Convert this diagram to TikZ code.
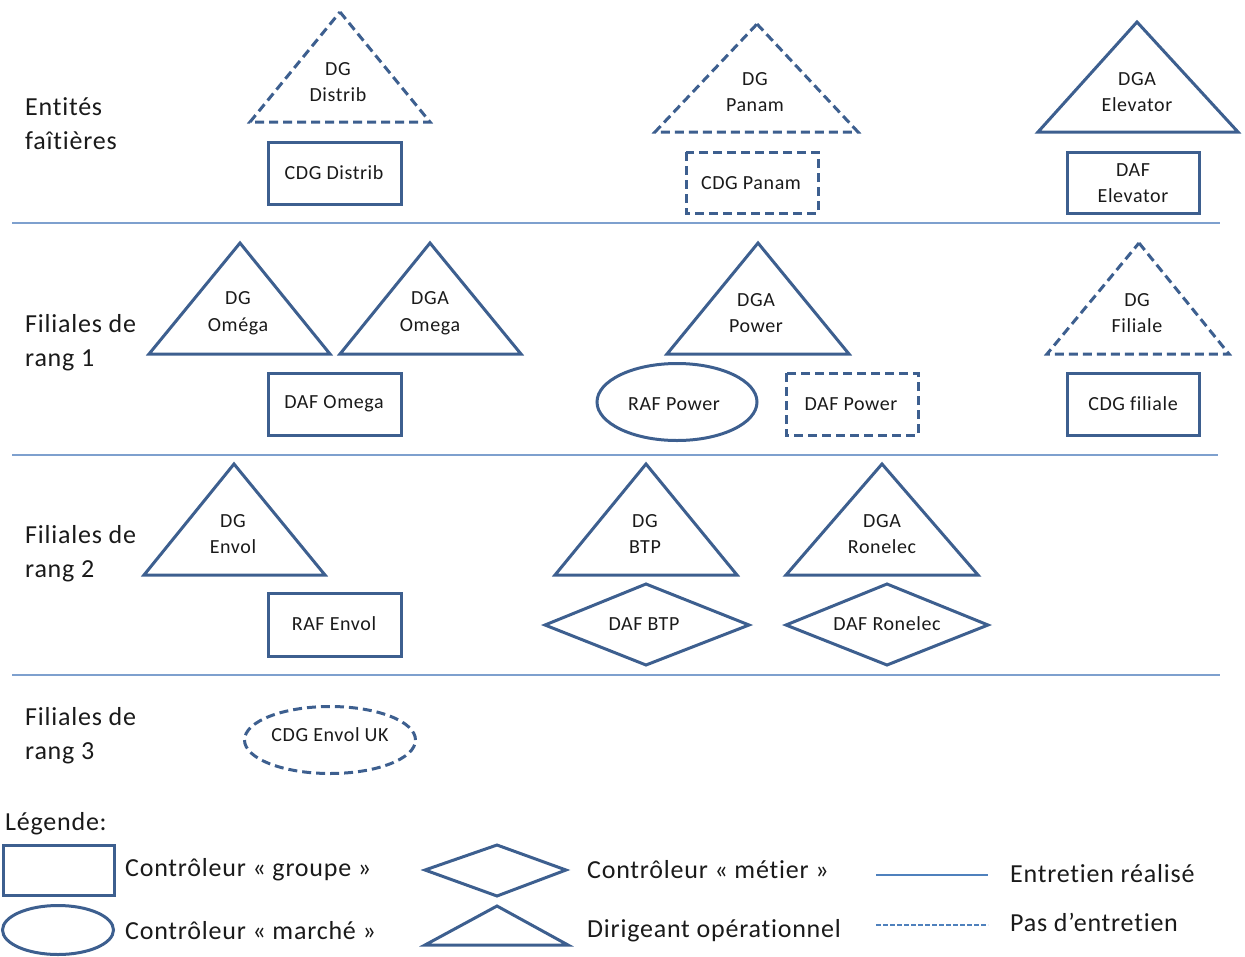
\documentclass[tikz,border=0pt]{standalone}
\usepackage{fontspec}
\setmainfont{Carlito}[LetterSpace=3,Ligatures=NoCommon]
\usetikzlibrary{shapes.geometric}
\definecolor{shpc}{HTML}{3D5F8F}
\definecolor{sepc}{HTML}{7EA0CE}
\definecolor{legc}{HTML}{4F81BD}
\definecolor{txt}{HTML}{1A1A1A}
\tikzset{
  outl/.style={draw=shpc, line width=3pt, line join=miter},
  dsh/.style={dash pattern=on 9pt off 5pt},
  lbl/.style={text=txt, font=\fontsize{20}{26.5}\selectfont, align=center, inner sep=0pt},
  rowlbl/.style={text=txt, font=\fontsize{26}{34}\selectfont, align=left, anchor=west, inner sep=0pt},
  legtxt/.style={text=txt, font=\fontsize{26}{30}\selectfont, anchor=west, inner sep=0pt},
  sepline/.style={draw=sepc, line width=2.5pt},
}
\begin{document}
\begin{tikzpicture}[x=1pt,y=-1pt]
\useasboundingbox (0,0) rectangle (1245,956);
% separators
\coordinate (s1a) at (12,223); \coordinate (s1b) at (1220,223);
\coordinate (s2a) at (12,455); \coordinate (s2b) at (1218,455);
\coordinate (s3a) at (12,675); \coordinate (s3b) at (1220,675);
\draw[sepline] (s1a) -- (s1b);
\draw[sepline] (s2a) -- (s2b);
\draw[sepline] (s3a) -- (s3b);
% row labels
\node[rowlbl] (l1) at (25,124) {Entités\\faîtières};
\node[rowlbl] (l2) at (25,343) {Filiales de\\rang 1};
\node[rowlbl] (l3) at (25,554) {Filiales de\\rang 2};
\node[rowlbl] (l4) at (25,736) {Filiales de\\rang 3};
% ---- Row 1
\draw[outl,dsh] (340,12) -- (430,122) -- (250,122) -- cycle;
\node[lbl] (dgdistrib) at (338,82) {DG\\Distrib};
\draw[outl] (268,142) rectangle (401,204);
\node[lbl] (cdgdistrib) at (334,173) {CDG Distrib};
\draw[outl,dsh] (757,24) -- (858,132) -- (655,132) -- cycle;
\node[lbl] (dgpanam) at (755,92) {DG\\Panam};
\draw[outl,dsh] (686,152) rectangle (818,213);
\node[lbl] (cdgpanam) at (751,183) {CDG Panam};
\draw[outl] (1137,22) -- (1238,132) -- (1038,132) -- cycle;
\node[lbl] (dgaelev) at (1137,92) {DGA\\Elevator};
\draw[outl] (1067,152) rectangle (1199,213);
\node[lbl] (dafelev) at (1133,183) {DAF\\Elevator};
% ---- Row 2
\draw[outl] (240,243) -- (330,354) -- (149,354) -- cycle;
\node[lbl] (dgomega) at (238,313) {DG\\Oméga};
\draw[outl] (430,243) -- (521,354) -- (340,354) -- cycle;
\node[lbl] (dgaomega) at (430,313) {DGA\\Omega};
\draw[outl] (268,373) rectangle (401,435);
\node[lbl] (dafomega) at (334,404) {DAF Omega};
\draw[outl] (758,243) -- (849,354) -- (667,354) -- cycle;
\node[lbl] (dgapower) at (756,313) {DGA\\Power};
\node[outl, ellipse, minimum width=160pt, minimum height=77pt] (rafpower) at (677,402) {};
\node[lbl] at (674,404) {RAF Power};
\draw[outl,dsh] (786,373) rectangle (918,435);
\node[lbl] (dafpower) at (851,404) {DAF Power};
\draw[outl,dsh] (1139,243) -- (1229,354) -- (1047,354) -- cycle;
\node[lbl] (dgfiliale) at (1137,313) {DG\\Filiale};
\draw[outl] (1067,373) rectangle (1199,435);
\node[lbl] (cdgfiliale) at (1133,404) {CDG filiale};
% ---- Row 3
\draw[outl] (234,464) -- (325,575) -- (144,575) -- cycle;
\node[lbl] (dgenvol) at (233,534) {DG\\Envol};
\draw[outl] (268,593) rectangle (401,656);
\node[lbl] (rafenvol) at (334,624) {RAF Envol};
\draw[outl] (646,464) -- (737,575) -- (555,575) -- cycle;
\node[lbl] (dgbtp) at (645,534) {DG\\BTP};
\draw[outl] (545,625) -- (646,584) -- (749,625) -- (646,665) -- cycle;
\node[lbl] (dafbtp) at (644,624) {DAF BTP};
\draw[outl] (882,464) -- (978,575) -- (786,575) -- cycle;
\node[lbl] (dgaronelec) at (882,534) {DGA\\Ronelec};
\draw[outl] (786,625) -- (887,584) -- (988,625) -- (887,665) -- cycle;
\node[lbl] (dafronelec) at (887,624) {DAF Ronelec};
% ---- Row 4
\node[outl, dsh, ellipse, minimum width=171pt, minimum height=67pt] (cdgenvoluk) at (330,740) {};
\node[lbl] at (330,735) {CDG Envol UK};
% ---- Legend
\node[legtxt] (legende) at (5,824) {Légende:};
\draw[outl] (3,845) rectangle (114,895);
\node[legtxt] (lg1) at (125,870) {Contrôleur « groupe »};
\node[outl, ellipse, minimum width=111pt, minimum height=49pt] (legell) at (58,930) {};
\node[legtxt] (lg2) at (125,931) {Contrôleur « marché »};
\draw[outl] (425,870) -- (497,845) -- (566,870) -- (497,896) -- cycle;
\node[legtxt] (lg3) at (587,870) {Contrôleur « métier »};
\draw[outl] (497,906) -- (568,945) -- (425,945) -- cycle;
\node[legtxt] (lg4) at (587,931) {Dirigeant opérationnel};
\coordinate (la1) at (876,875); \coordinate (lb1) at (988,875);
\coordinate (la2) at (876,925); \coordinate (lb2) at (988,925);
\draw[draw=legc, line width=2.2pt] (la1) -- (lb1);
\draw[draw=legc, line width=2.2pt, dash pattern=on 5pt off 2pt] (la2) -- (lb2);
\node[legtxt] (lg5) at (1010,874) {Entretien réalisé};
\node[legtxt] (lg6) at (1010,922) {Pas d’entretien};
\end{tikzpicture}
\end{document}
